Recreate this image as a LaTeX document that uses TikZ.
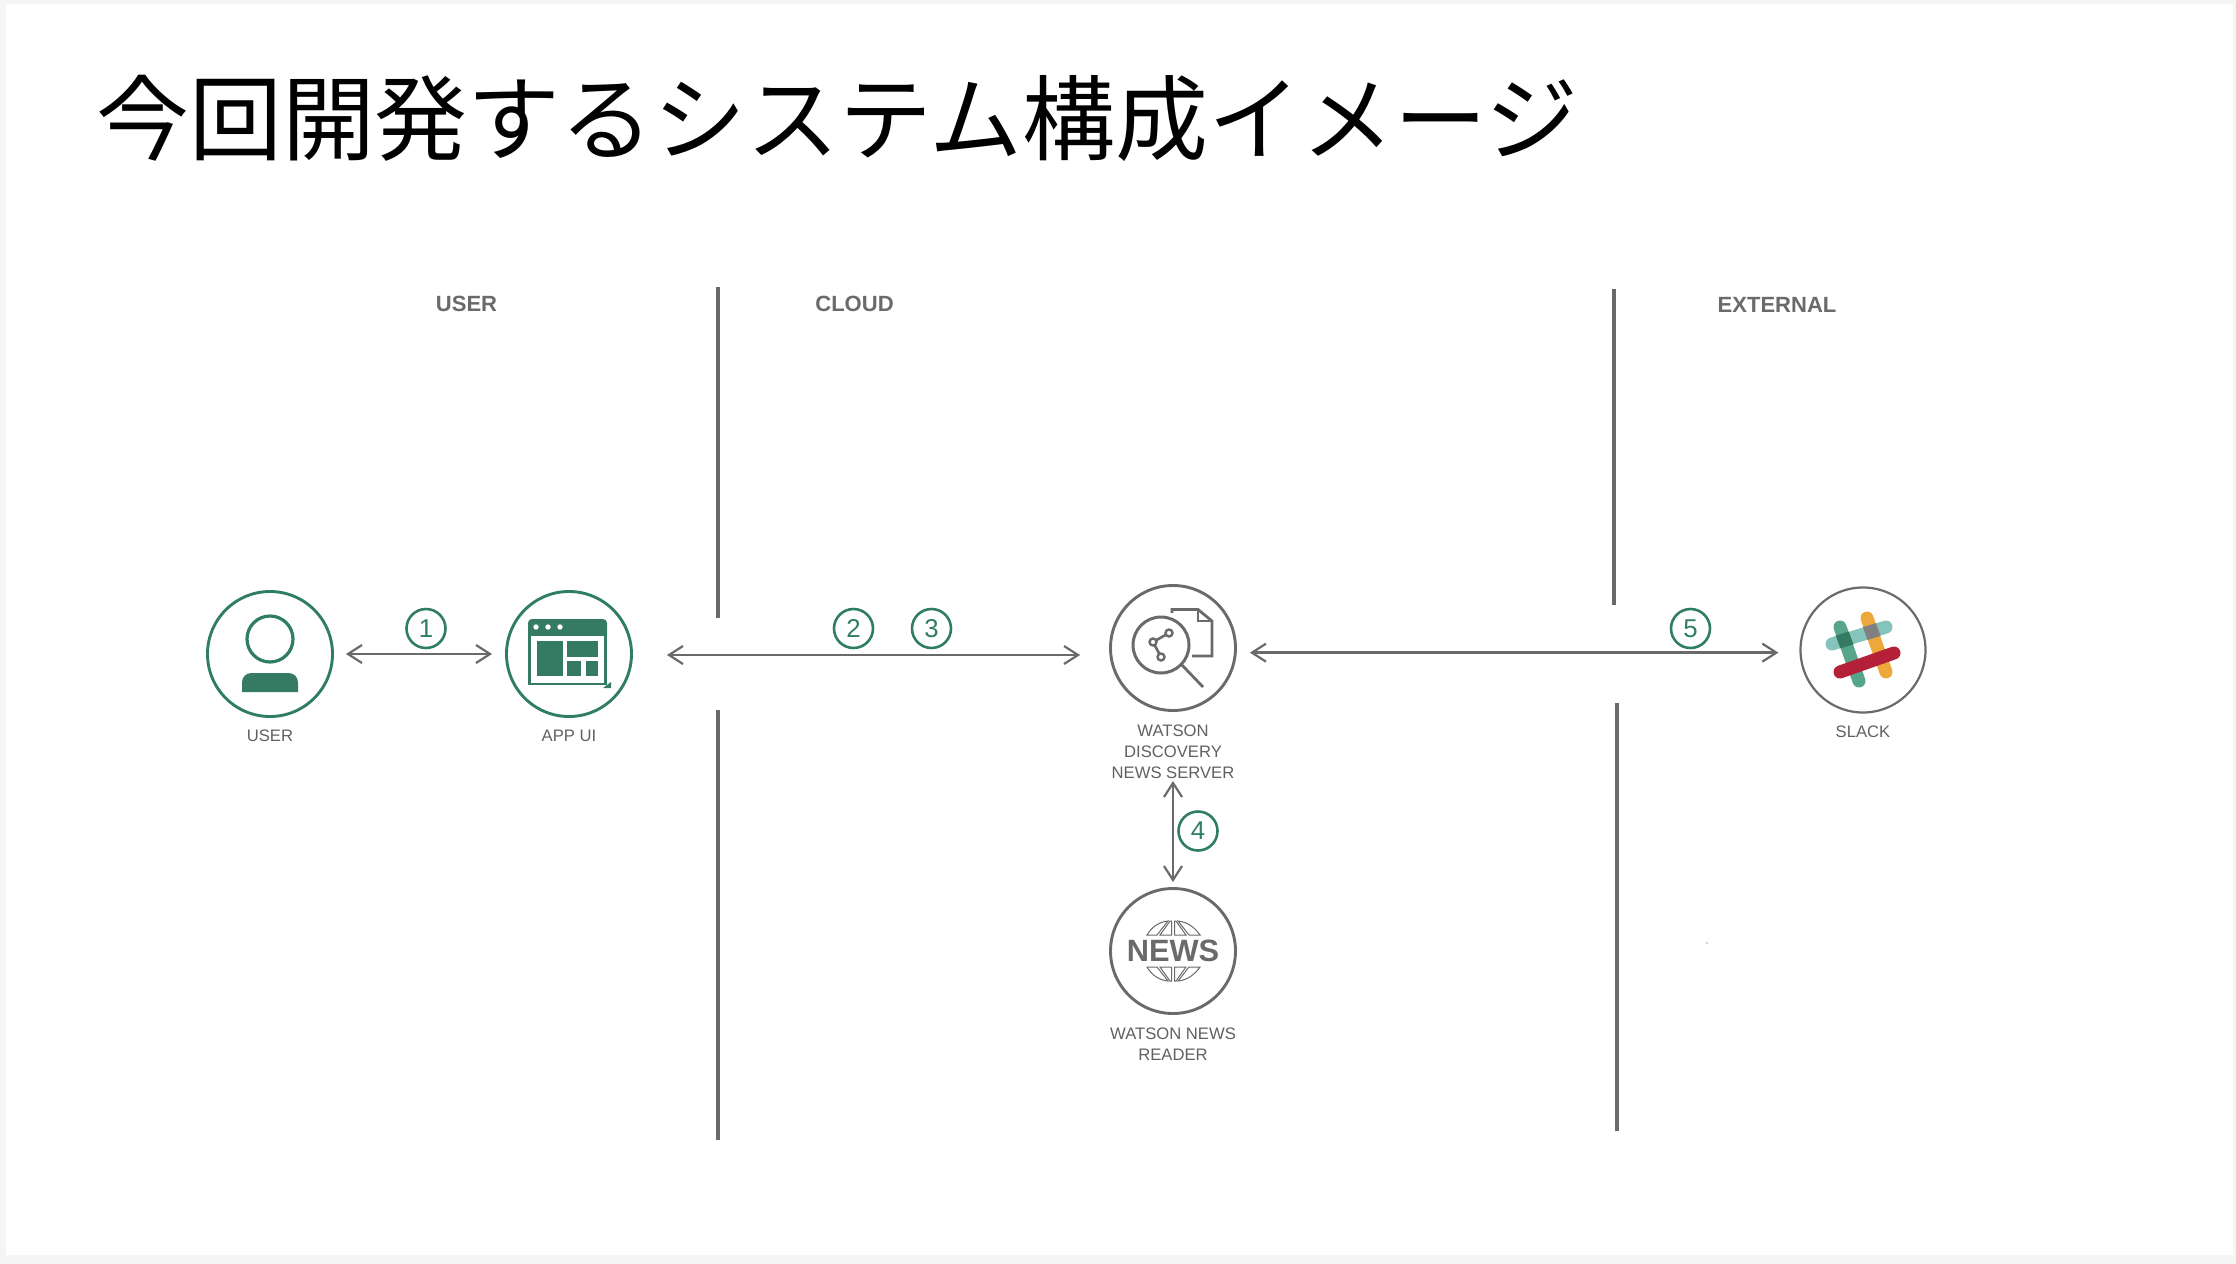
\documentclass[tikz,border=0pt]{standalone}
\usepackage{fontspec}
\setmainfont{Liberation Sans}
\newfontfamily\cjk{Noto Sans CJK JP}
\usetikzlibrary{arrows.meta}
\definecolor{gr}{HTML}{6A6A6D}
\definecolor{grn}{HTML}{2F7D66}
\definecolor{grnf}{HTML}{357A63}
\newcommand{\newsdome}{%
  \draw[gr,lw=1] (1147,935) -- (1157,935) -- (1168,921) .. controls (1158,922) and (1151,928) .. cycle;
  \draw[gr,lw=1] (1160,935) -- (1171.5,935) -- (1171.5,921) -- (1170,921) -- cycle;
  \draw[gr,lw=1] (1174.5,935) -- (1186,935) -- (1176,921) -- (1174.5,921) -- cycle;
  \draw[gr,lw=1] (1189,935) -- (1200,935) .. controls (1195,928) and (1188,922) .. (1178,921) -- cycle;
}
\tikzset{
  lw/.style={line width=#1*0.3mm},
  icon/.style={circle,draw=grn,lw=2.9,fill=white,minimum size=37.5mm,inner sep=0pt},
  giconc/.style={circle,draw=gr,lw=2.9,fill=white,minimum size=37.5mm,inner sep=0pt},
  stepnum/.style={circle,draw=grn,lw=2.6,minimum size=11.7mm,inner sep=0pt,text=grn,font=\fontsize{22}{24}\selectfont},
  caption/.style={text=gr!92!black,align=center,inner sep=0pt,font=\fontsize{14.2}{17.9}\selectfont},
  header/.style={text=gr,inner sep=0pt,font=\fontsize{18.8}{22}\selectfont\bfseries},
  conn/.style={draw=gr,lw=2.4,>={Straight Barb[length=4.2mm,width=5.4mm,line width=0.66mm]},<->},
  divider/.style={draw=gr,lw=4.2},
  bar/.style={lw=13,line cap=round},
}
\begin{document}
\begin{tikzpicture}[x=0.3mm,y=-0.3mm]
\useasboundingbox (0,0) rectangle (2236,1264);
\fill[black!4] (0,0) rectangle (2236,1264);
\fill[white] (6,4) rectangle (2233,1255);
% title
\node[anchor=west,inner sep=0pt] (title) at (96,118) {\cjk\fontsize{79.3}{90}\selectfont 今回開発するシステム構成イメージ};
% headers
\node[header] (huser) at (466.5,304) {USER};
\node[header] (hcloud) at (854.5,304) {CLOUD};
\node[header] (hext) at (1777,305) {EXTERNAL};
% dividers
\coordinate (d1a) at (718,287); \coordinate (d1b) at (718,618);
\coordinate (d2a) at (718,710); \coordinate (d2b) at (718,1140);
\coordinate (d3a) at (1614,289); \coordinate (d3b) at (1614,605);
\coordinate (d4a) at (1617,703); \coordinate (d4b) at (1617,1131);
\draw[divider] (d1a) -- (d1b);
\draw[divider] (d2a) -- (d2b);
\draw[divider] (d3a) -- (d3b);
\draw[divider] (d4a) -- (d4b);
% main nodes
\node[icon] (user) at (270,654) {};
\node[icon] (app) at (569,654) {};
\node[giconc] (disc) at (1173,648) {};
\node[giconc] (news) at (1173,951) {};
\node[giconc,lw=2.2] (slack) at (1863,650) {};
% captions
\node[caption] (cuser) at (270,735.5) {USER};
\node[caption] (capp) at (569,735.5) {APP UI};
\node[caption] (cdisc) at (1173,752) {WATSON\\DISCOVERY\\NEWS SERVER};
\node[caption] (cnews) at (1173,1044.5) {WATSON NEWS\\READER};
\node[caption] (cslack) at (1863,731.5) {SLACK};
% connectors
\coordinate (a2l) at ([yshift=-0.3mm]app.east);
\coordinate (a2r) at (a2l -| disc.west);
\coordinate (a5l) at ([yshift=-1.4mm]disc.east);
\coordinate (a5r) at (a5l -| slack.west);
\draw[conn,shorten <=3.6mm,shorten >=3.9mm] (user.east) -- (app.west);
\draw[conn,shorten <=10.2mm,shorten >=8.7mm] (a2l) -- (a2r);
\draw[conn,shorten <=3.9mm,shorten >=6.3mm] (a5l) -- (a5r);
\draw[conn,shorten <=20.7mm,shorten >=1.5mm] (disc.south) -- (news.north);
% step numbers
\node[stepnum] (s1) at (426,628.5) {1};
\node[stepnum] (s2) at (853.5,628.5) {2};
\node[stepnum] (s3) at (931.5,628.5) {3};
\node[stepnum] (s4) at (1198,831) {4};
\node[stepnum] (s5) at (1690.5,628.5) {5};
% user icon
\draw[grn,lw=3.2] (270,639) circle[radius=23];
\fill[grnf] (242,692) [rounded corners=2.8mm] -- (242,673) -- (298,673) [sharp corners] -- (298,692) -- cycle;
% app icon
\draw[grnf,lw=2.6] (529.3,635) rectangle (605.5,684);
\fill[grnf] (528,635) [rounded corners=1.2mm] -- (528,619) -- (607,619) [sharp corners] -- (607,635) -- cycle;
\foreach \dx in {536,548,560} \fill[white] (\dx,627) circle[radius=2.7];
\fill[grnf] (537,641) rectangle (563,676);
\fill[grnf] (567,641) rectangle (598,657);
\fill[grnf] (567,661) rectangle (581,676);
\fill[grnf] (586,661) rectangle (598,676);
\fill[grnf] (611,682) -- (611,688) -- (603,688) -- cycle;
% discovery icon
\draw[gr,lw=2.8,line join=miter] (1172,613) -- (1172,609.5) -- (1198,609.5) -- (1212,621) -- (1212,656) -- (1192,656);
\draw[gr,lw=2.2] (1198,609.5) -- (1198,621) -- (1212,621);
\draw[gr,lw=3] (1161,645) circle[radius=28];
\draw[gr,lw=2.8] (1181,664) -- (1203,687);
\draw[gr,lw=2.6] (1169,633) -- (1153,642) -- (1161,657);
\filldraw[draw=gr,fill=white,lw=2.4] (1169,633) circle[radius=3.5];
\filldraw[draw=gr,fill=white,lw=2.4] (1153,642) circle[radius=3.5];
\filldraw[draw=gr,fill=white,lw=2.4] (1161,657) circle[radius=3.5];
% news icon
\node[text=gr,inner sep=0pt,font=\fontsize{26.3}{28}\selectfont\bfseries] (newstxt) at (1173,951) {NEWS};
\newsdome
\begin{scope}[shift={(0,1902)},yscale=-1]
\newsdome
\end{scope}
% slack icon
\draw[bar,draw={rgb,255:red,132;green,196;blue,189}] (1832,644) -- (1886,627);
\draw[bar,draw={rgb,255:red,87;green,166;blue,140}] (1840,627) -- (1859,681);
\draw[bar,draw={rgb,255:red,236;green,168;blue,58}] (1867,618) -- (1886,672);
\fill[grnf] (1853.4,644.4) -- (1848.8,631.6) -- (1835.8,635.6) -- (1840.4,648.4) -- cycle;
\fill[gray] (1880.5,635.9) -- (1875.9,623.1) -- (1862.9,627.1) -- (1867.5,639.9) -- cycle;
\draw[bar,draw={rgb,255:red,179;green,32;blue,56}] (1840,672) -- (1894,653);
% stray dot
\fill[gr!60] (1707,943) circle[radius=0.8];
\end{tikzpicture}
\end{document}
